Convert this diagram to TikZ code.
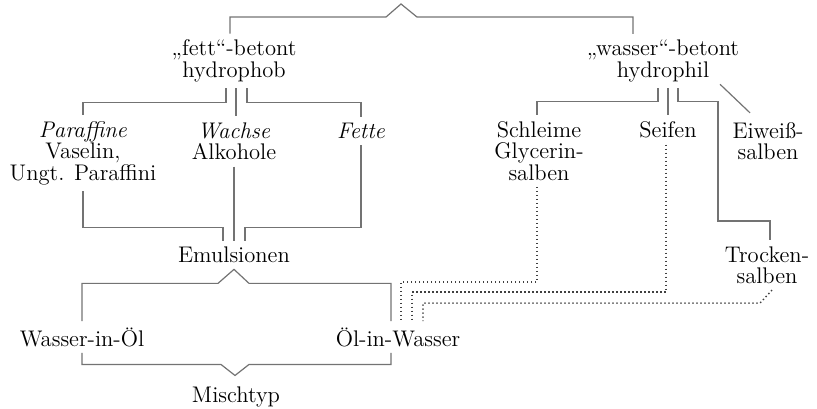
\documentclass[tikz,border=0pt]{standalone}
\usepackage{fontspec}
\usetikzlibrary{calc}

\begin{document}
\begin{tikzpicture}[x=0.5pt,y=-0.5pt,
  ln/.style={black!55,line width=0.6pt},
  dl/.style={black!75,line width=0.7pt,dash pattern=on 0.7pt off 1.3pt},
  lbl/.style={font=\fontsize{11.3}{10.7}\selectfont,align=center,inner sep=3pt}]
  \useasboundingbox (0,0) rectangle (817,408);
  % obere Ebene
  \node[lbl] (fett) at (234,61) {„fett“-betont\\hydrophob};
  \node[lbl] (wasser) at (663,61) {„wasser“-betont\\hydrophil};
  \coordinate (spitze) at (401,4);
  \draw[ln] ($(fett.north)+(-4,0)$) |- ($(spitze)+(-15,13)$) -- (spitze)
    -- ($(spitze)+(16,13)$) -| ($(wasser.north)+(-30,0)$);
  % fett-betonte Grundlagen
  \node[lbl] (par) at (83,153) {\textit{Paraffine}\\Vaselin,\\Ungt. Paraffini};
  \node[lbl] (wachs) at (234,141.5) {\textit{Wachse}\\Alkohole};
  \node[lbl] (fette) at (361,131) {\textit{Fette}};
  \draw[ln] ($(fett.south)+(-8,0)$) -- ++(0,14) -| (par.north);
  \draw[ln] ($(fett.south)+(2,0)$) -- ($(wachs.north)+(2,0)$);
  \draw[ln] ($(fett.south)+(13,0)$) -- ++(0,14) -| (fette.north);
  % Emulsionen
  \node[lbl] (emul) at (234,255) {Emulsionen};
  \draw[ln] (par.south) |- ($(emul.north)+(-11,-13)$) -- ($(emul.north)+(-11,0)$);
  \draw[ln] (wachs.south) -- (emul.north);
  \draw[ln] (fette.south) |- ($(emul.north)+(11,-13)$) -- ($(emul.north)+(11,0)$);
  \node[lbl] (wio) at (82,337) {Wasser-in-Öl};
  \node[lbl] (oiw) at (398,337) {Öl-in-Wasser};
  \node[lbl] (misch) at (236,397) {Mischtyp};
  \draw[ln] (wio.north) |- ($(emul.south)+(-16,14)$) -- (emul.south)
    -- ($(emul.south)+(15,14)$) -| ($(oiw.north)+(-7,0)$);
  \draw[ln] (wio.south) |- ($(misch.north)+(-15,-16)$) -- ($(misch.north)+(-1,-5)$)
    -- ($(misch.north)+(13,-16)$) -| ($(oiw.south)+(-7,0)$);
  % wasser-betonte Grundlagen
  \node[lbl] (schleim) at (539,151) {Schleime\\Glycerin-\\salben};
  \node[lbl] (seifen) at (668,130) {Seifen};
  \node[lbl] (eiweiss) at (768,141) {Eiweiß-\\salben};
  \node[lbl] (trocken) at (767,265) {Trocken-\\salben};
  \draw[ln] ($(wasser.south)+(-5,0)$) -- ++(0,13) -| ($(schleim.north)+(-2,0)$);
  \draw[ln] (seifen.north |- wasser.south) -- (seifen.north);
  \draw[ln] ($(wasser.south)+(15,0)$) -- ++(0,13) -| ($(trocken.north)+(-49,-19)$)
    -| ($(trocken.north)+(3,0)$);
  \draw[ln] ($(wasser.south)+(57,-4)$) -- ($(eiweiss.north)+(-18,-3)$);
  % Verbindungen zu Öl-in-Wasser: punktiert
  \draw[dl] ($(schleim.south)+(-2,0)$) |- ($(oiw.north)+(3,-39)$) -- ($(oiw.north)+(3,0)$);
  \draw[dl] ($(seifen.south)+(-2,0)$) |- ($(oiw.north)+(14,-29)$) -- ($(oiw.north)+(14,0)$);
  \draw[dl] ($(trocken.south)+(5,0)$) -- ++(-12,13) -| ($(oiw.north)+(25,0)$);
\end{tikzpicture}
\end{document}
